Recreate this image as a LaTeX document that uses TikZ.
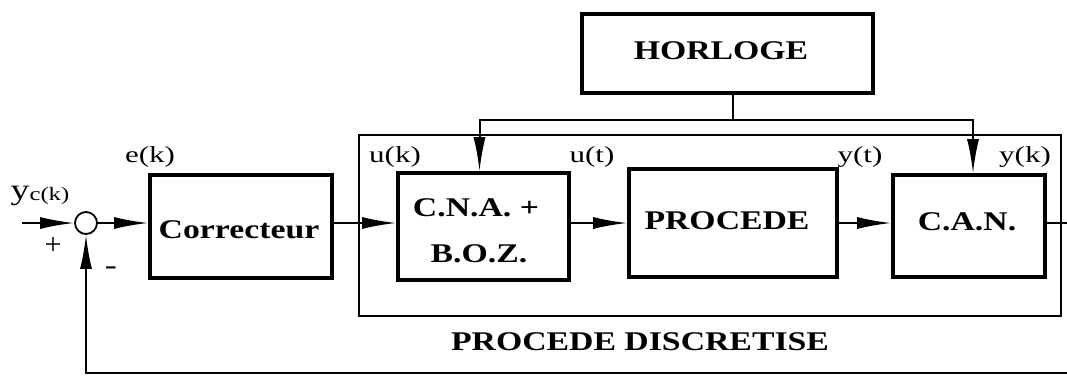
\documentclass[tikz,border=0pt]{standalone}
\usepackage{fontspec}
\setmainfont{Liberation Serif}
\usetikzlibrary{arrows.meta}

% bold block captions and signal names, set a little wide
\newcommand\blocktext[1]{\scalebox{1.25}[1]{\fontsize{27}{32}\selectfont\bfseries #1}}
\newcommand\sigtext[1]{\scalebox{1.35}[1]{\fontsize{23}{27}\selectfont #1}}

\begin{document}
\begin{tikzpicture}[x=1pt,y=-1pt,
  blk/.style={draw, line width=3.6pt, inner sep=0pt, align=center},
  frame/.style={draw, line width=2.2pt, inner sep=0pt},
  wire/.style={line width=2pt},
  sig/.style={wire, -{Latex[length=34pt,width=12pt]}},
  lbl/.style={inner sep=0pt},
  sumpt/.style={circle, draw, line width=1.8pt, minimum size=22pt, inner sep=0pt}]

\useasboundingbox (0,0) rectangle (1067,376);

% sampled process frame
\node[frame, minimum width=702pt, minimum height=181pt] (disc) at (710,225.5) {};

% blocks
\node[blk, minimum width=291pt, minimum height=79pt] (clk) at (727.5,53.5) {};
\node[lbl] (clktxt) at (721,50.5) {\blocktext{HORLOGE}};
\node[blk, minimum width=182pt, minimum height=103pt] (cor) at (241,226.5) {};
\node[lbl] (cortxt) at (239,230) {\blocktext{Correcteur}};
\node[blk, minimum width=171pt, minimum height=107pt] (cna) at (483.5,226.5) {};
\node[lbl] (cnatxt1) at (476,208) {\blocktext{C.N.A. +}};
\node[lbl] (cnatxt2) at (479,254) {\blocktext{B.O.Z.}};
\node[blk, minimum width=208pt, minimum height=108pt] (proc) at (733,223) {};
\node[lbl] (proctxt) at (727,221) {\blocktext{PROCEDE}};
\node[blk, minimum width=152pt, minimum height=102pt] (can) at (969,226) {};
\node[lbl] (cantxt) at (967,222) {\blocktext{C.A.N.}};

% summing junction
\node[sumpt] (sum) at (86,223) {};

% free ends of the wires
\coordinate (in) at (22,223);
\coordinate (out) at (1067,223);
\coordinate (fbR) at (1067,373);
\coordinate (fbL) at (sum |- fbR);
\coordinate (clkout) at (733,93);
\coordinate (tap) at (733,119.5);

% forward path
\draw[sig] (in) -- (sum);
\draw[sig] (sum) -- (cor.west |- sum);
\draw[sig] (cor.east |- sum) -- (cna.west |- sum);
\draw[sig] (cna.east |- sum) -- (proc.west |- sum);
\draw[sig] (proc.east |- sum) -- (can.west |- sum);
\draw[wire] (can.east |- sum) -- (out);

% feedback path
\draw[sig] (fbR) -- (fbL) -- (sum);

% clock distribution
\draw[wire] (clkout) -- (tap);
\draw[sig] (tap) -| ([xshift=-4pt]cna.north);
\draw[sig] (tap) -| ([xshift=4pt]can.north);

% signal names
\node[lbl] (yc) at (40,196) {\scalebox{1.3}[1]{\fontsize{29}{32}\selectfont y\raisebox{-1pt}{\fontsize{19}{21}\selectfont c(k)}}};
\node[lbl] (plus) at (53,246) {\fontsize{30}{32}\selectfont +};
\node[lbl] (minus) at (111,271) {\scalebox{1.3}[1]{\fontsize{28}{30}\selectfont -}};
\node[lbl] (ek) at (150,157) {\sigtext{e(k)}};
\node[lbl] (uk) at (395,157) {\sigtext{u(k)}};
\node[lbl] (ut) at (592,157) {\sigtext{u(t)}};
\node[lbl] (yt) at (860,157) {\sigtext{y(t)}};
\node[lbl] (yk) at (1025,157) {\sigtext{y(k)}};

% frame caption
\node[lbl] (disctxt) at (640,342) {\blocktext{PROCEDE DISCRETISE}};
\end{tikzpicture}
\end{document}
